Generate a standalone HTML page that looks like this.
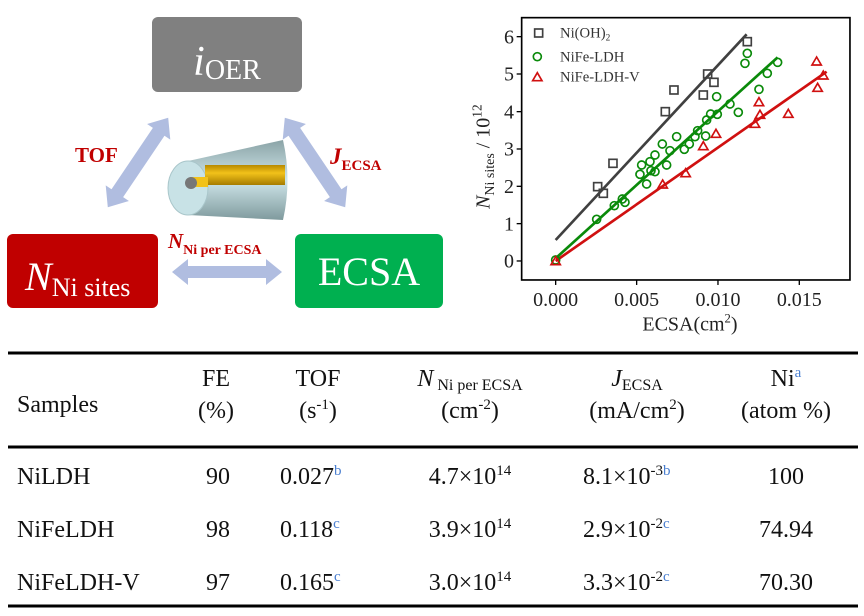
<!DOCTYPE html>
<html><head><meta charset="utf-8"><style>
html,body{margin:0;padding:0;background:#fff;}
svg{display:block;font-family:"Liberation Serif",serif;}
</style></head><body>
<svg width="864" height="616" viewBox="0 0 864 616" xmlns="http://www.w3.org/2000/svg">
<defs>
<linearGradient id="cone" x1="0" y1="0" x2="0" y2="1">
<stop offset="0" stop-color="#8aa3a6"/><stop offset="0.5" stop-color="#cfe6ea"/><stop offset="1" stop-color="#7f9a9d"/>
</linearGradient>
<linearGradient id="gold" x1="0" y1="0" x2="0" y2="1">
<stop offset="0" stop-color="#b88a00"/><stop offset="0.4" stop-color="#f2c21a"/><stop offset="1" stop-color="#a67c00"/>
</linearGradient>
<polygon id="arr" points="-54,0 -37,-14 -37,-7 37,-7 37,-14 54,0 37,14 37,7 -37,7 -37,14"/>
</defs>
<!-- boxes -->
<rect x="152" y="17" width="150" height="75" rx="6" fill="#808080"/>
<text x="227" y="75" text-anchor="middle" fill="#fff" font-size="42" font-style="italic">i<tspan font-style="normal" font-size="28" dy="4">OER</tspan></text>
<rect x="7" y="234" width="151" height="74" rx="6" fill="#c00000"/>
<text x="25" y="290" fill="#fff" font-size="40" font-style="italic">N<tspan font-style="normal" font-size="26" dy="6">Ni sites</tspan></text>
<rect x="295" y="234" width="148" height="74" rx="6" fill="#00b050"/>
<text x="369" y="285" text-anchor="middle" fill="#fff" font-size="40">ECSA</text>
<!-- arrows -->
<g fill="#b0bde0">
<use href="#arr" transform="translate(138,162.5) rotate(-56)"/>
<use href="#arr" transform="translate(315,162.5) rotate(56)"/>
<polygon points="172,272 188,259 188,266 266,266 266,259 282,272 266,285 266,278 188,278 188,285"/>
</g>
<!-- cylinder -->
<path d="M188,161 L283,140 Q292,180 283,220 L188,215 Z" fill="url(#cone)"/>
<ellipse cx="188" cy="188" rx="20" ry="27" fill="#c8e2e6" stroke="#a9c6ca" stroke-width="1"/>
<rect x="205" y="165" width="80" height="20" fill="url(#gold)"/>
<rect x="190" y="177" width="18" height="10" fill="#f2c21a"/>
<circle cx="191" cy="183" r="6" fill="#777"/>
<!-- labels -->
<text x="75" y="162" fill="#c00000" font-size="21" font-weight="bold">TOF</text>
<text x="330" y="164" fill="#c00000" font-size="23" font-weight="bold" font-style="italic">J<tspan font-size="15" font-style="normal" dy="6">ECSA</tspan></text>
<text x="168" y="248" fill="#c00000" font-size="21" font-weight="bold" font-style="italic">N<tspan font-size="14" font-style="normal" dy="6">Ni per ECSA</tspan></text>

<!-- plot -->
<g transform="translate(440,0) scale(0.3333)">
<rect x="245" y="53" width="985" height="787" fill="none" stroke="#000" stroke-width="5"/>
<g stroke="#000" stroke-width="4">
<line x1="230" y1="110" x2="245" y2="110"/><line x1="230" y1="222" x2="245" y2="222"/><line x1="230" y1="335" x2="245" y2="335"/><line x1="230" y1="447" x2="245" y2="447"/><line x1="230" y1="559" x2="245" y2="559"/><line x1="230" y1="671" x2="245" y2="671"/><line x1="230" y1="783" x2="245" y2="783"/>
<line x1="347" y1="840" x2="347" y2="855"/><line x1="590" y1="840" x2="590" y2="855"/><line x1="834" y1="840" x2="834" y2="855"/><line x1="1078" y1="840" x2="1078" y2="855"/>
</g>
<g font-size="60" text-anchor="end" fill="#222">
<text x="222" y="130">6</text><text x="222" y="242">5</text><text x="222" y="355">4</text><text x="222" y="467">3</text><text x="222" y="579">2</text><text x="222" y="691">1</text><text x="222" y="803">0</text>
</g>
<g font-size="60" text-anchor="middle" fill="#222">
<text x="347" y="918">0.000</text><text x="590" y="918">0.005</text><text x="834" y="918">0.010</text><text x="1078" y="918">0.015</text>
<text x="750" y="992">ECSA(cm<tspan font-size="38" dy="-24">2</tspan><tspan dy="24">)</tspan></text>
</g>
<text transform="translate(148,470) rotate(-90)" text-anchor="middle" font-size="60" fill="#222"><tspan font-style="italic">N</tspan><tspan font-size="42" dy="14">Ni sites</tspan><tspan dy="-14"> / 10</tspan><tspan font-size="40" dy="-24">12</tspan></text>
<line x1="347" y1="720" x2="920" y2="103" stroke="#404040" stroke-width="8"/>
<line x1="347" y1="775" x2="1013" y2="172" stroke="#0a8a0a" stroke-width="8"/>
<line x1="347" y1="783" x2="1160" y2="215" stroke="#d01010" stroke-width="8"/>
<g fill="none" stroke="#404040" stroke-width="5">
<rect x="461" y="548" width="24" height="24"/><rect x="478" y="568" width="24" height="24"/><rect x="507" y="478" width="24" height="24"/><rect x="664" y="323" width="24" height="24"/><rect x="690" y="258" width="24" height="24"/><rect x="778" y="273" width="24" height="24"/><rect x="791" y="210" width="24" height="24"/><rect x="810" y="235" width="24" height="24"/><rect x="910" y="113" width="24" height="24"/>
<rect x="284" y="87" width="24" height="24"/>
</g>
<g fill="none" stroke="#0a8a0a" stroke-width="5">
<circle cx="470" cy="658" r="12"/><circle cx="523" cy="617" r="12"/><circle cx="547" cy="597" r="12"/><circle cx="555" cy="607" r="12"/><circle cx="600" cy="523" r="12"/><circle cx="605" cy="495" r="12"/><circle cx="620" cy="552" r="12"/><circle cx="630" cy="485" r="12"/><circle cx="633" cy="512" r="12"/><circle cx="645" cy="465" r="12"/><circle cx="645" cy="515" r="12"/><circle cx="667" cy="432" r="12"/><circle cx="680" cy="495" r="12"/><circle cx="690" cy="452" r="12"/><circle cx="710" cy="410" r="12"/><circle cx="733" cy="448" r="12"/><circle cx="748" cy="432" r="12"/><circle cx="765" cy="410" r="12"/><circle cx="773" cy="392" r="12"/><circle cx="797" cy="408" r="12"/><circle cx="800" cy="360" r="12"/><circle cx="812" cy="342" r="12"/><circle cx="830" cy="290" r="12"/><circle cx="832" cy="343" r="12"/><circle cx="870" cy="312" r="12"/><circle cx="895" cy="337" r="12"/><circle cx="915" cy="190" r="12"/><circle cx="922" cy="160" r="12"/><circle cx="957" cy="268" r="12"/><circle cx="982" cy="220" r="12"/><circle cx="1013" cy="187" r="12"/><circle cx="347" cy="780" r="12"/>
<circle cx="292" cy="170" r="12"/>
</g>
<g fill="none" stroke="#d01010" stroke-width="5">
<path d="M347,770 l14,24 h-28z"/><path d="M668,540 l14,24 h-28z"/><path d="M737,506 l14,24 h-28z"/><path d="M790,425 l14,24 h-28z"/><path d="M828,388 l14,24 h-28z"/><path d="M945,358 l14,24 h-28z"/><path d="M957,293 l14,24 h-28z"/><path d="M960,331 l14,24 h-28z"/><path d="M1045,328 l14,24 h-28z"/><path d="M1130,171 l14,24 h-28z"/><path d="M1133,250 l14,24 h-28z"/><path d="M1150,213 l14,24 h-28z"/>
<path d="M292,218 l14,24 h-28z"/>
</g>
<g font-size="44" fill="#333">
<text x="360" y="112">Ni(OH)<tspan font-size="28" dy="10">2</tspan></text>
<text x="360" y="184">NiFe-LDH</text>
<text x="360" y="244">NiFe-LDH-V</text>
</g>
</g>

<!-- table -->
<g stroke="#000">
<line x1="8" y1="353" x2="858" y2="353" stroke-width="3"/>
<line x1="8" y1="447" x2="858" y2="447" stroke-width="3"/>
<line x1="8" y1="606" x2="858" y2="606" stroke-width="3"/>
</g>
<g font-size="24" fill="#111">
<text x="17" y="412">Samples</text>
<g text-anchor="middle">
<text x="216" y="386">FE</text><text x="216" y="418">(%)</text>
<text x="318" y="386">TOF</text><text x="318" y="418">(s<tspan font-size="15" dy="-9">-1</tspan><tspan dy="9">)</tspan></text>
<text x="470" y="386"><tspan font-style="italic">N</tspan><tspan font-size="16" dy="4"> Ni per ECSA</tspan></text>
<text x="470" y="418">(cm<tspan font-size="15" dy="-9">-2</tspan><tspan dy="9">)</tspan></text>
<text x="637" y="386"><tspan font-style="italic">J</tspan><tspan font-size="16" dy="4">ECSA</tspan></text>
<text x="637" y="418">(mA/cm<tspan font-size="15" dy="-9">2</tspan><tspan dy="9">)</tspan></text>
<text x="786" y="386">Ni<tspan font-size="15" dy="-9" fill="#4a7fd0">a</tspan></text>
<text x="786" y="418">(atom %)</text>
</g>
<text x="17" y="484">NiLDH</text><text x="17" y="537">NiFeLDH</text><text x="17" y="590">NiFeLDH-V</text>
<g text-anchor="middle">
<text x="218" y="484">90</text><text x="218" y="537">98</text><text x="218" y="590">97</text>
<text x="786" y="484">100</text><text x="786" y="537">74.94</text><text x="786" y="590">70.30</text>
<text x="470" y="484">4.7×10<tspan font-size="15" dy="-9">14</tspan></text>
<text x="470" y="537">3.9×10<tspan font-size="15" dy="-9">14</tspan></text>
<text x="470" y="590">3.0×10<tspan font-size="15" dy="-9">14</tspan></text>
</g>
<text x="280" y="484">0.027<tspan font-size="15" dy="-9" fill="#4a7fd0">b</tspan></text>
<text x="280" y="537">0.118<tspan font-size="15" dy="-9" fill="#4a7fd0">c</tspan></text>
<text x="280" y="590">0.165<tspan font-size="15" dy="-9" fill="#4a7fd0">c</tspan></text>
<text x="583" y="484">8.1×10<tspan font-size="15" dy="-9">-3</tspan><tspan font-size="15" fill="#4a7fd0">b</tspan></text>
<text x="583" y="537">2.9×10<tspan font-size="15" dy="-9">-2</tspan><tspan font-size="15" fill="#4a7fd0">c</tspan></text>
<text x="583" y="590">3.3×10<tspan font-size="15" dy="-9">-2</tspan><tspan font-size="15" fill="#4a7fd0">c</tspan></text>
</g>
</svg>
</body></html>
